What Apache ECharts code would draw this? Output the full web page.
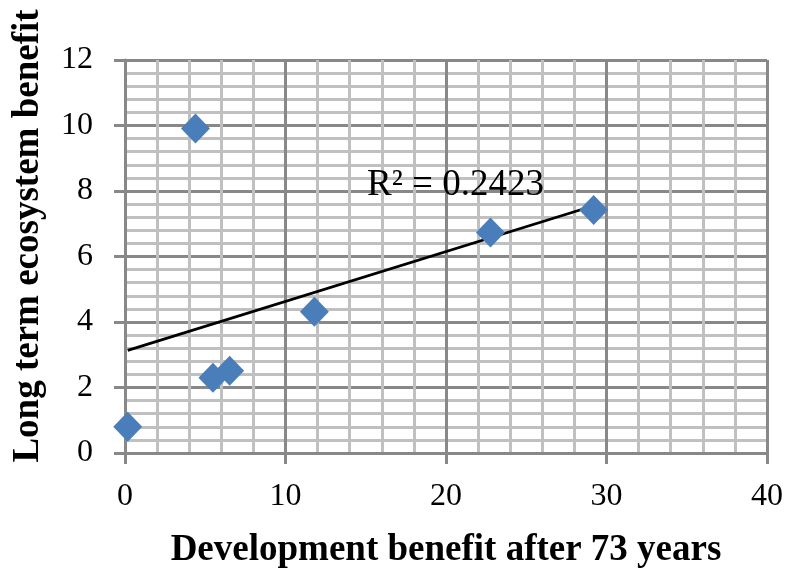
<!DOCTYPE html>
<html>
<head>
<meta charset="utf-8">
<script src="https://cdn.jsdelivr.net/npm/echarts@6/dist/echarts.min.js"></script>
<style>
  html, body { margin: 0; padding: 0; background: #ffffff; }
  #chart { width: 786px; height: 569px; }
</style>
</head>
<body>
<div id="chart"></div>
<script>
// Development benefit (x) vs long term ecosystem benefit (y)
const devBenefit = [0.17, 4.39, 5.48, 6.52, 11.8, 22.77, 29.2];
const ecoBenefit = [0.80, 9.91, 2.30, 2.51, 4.31, 6.73, 7.42];
const xTicks = [0, 10, 20, 30, 40];
const yTicks = [0, 2, 4, 6, 8, 10, 12];
const xTitle = 'Development benefit after 73 years';
const yTitle = 'Long term ecosystem benefit';
const r2Text = 'R² = 0.2423';

// Least-squares linear trend through the points
function linearFit(xs, ys) {
  const n = xs.length;
  const mx = xs.reduce((a, b) => a + b, 0) / n;
  const my = ys.reduce((a, b) => a + b, 0) / n;
  let sxy = 0, sxx = 0;
  for (let i = 0; i < n; i++) {
    sxy += (xs[i] - mx) * (ys[i] - my);
    sxx += (xs[i] - mx) * (xs[i] - mx);
  }
  const slope = sxy / sxx;
  return { slope, intercept: my - slope * mx };
}
const fit = linearFit(devBenefit, ecoBenefit);
const xMin = Math.min(...devBenefit), xMax = Math.max(...devBenefit);
const trend = [[xMin, fit.intercept + fit.slope * xMin], [xMax, fit.intercept + fit.slope * xMax]];
const points = devBenefit.map((x, i) => [x, ecoBenefit[i]]);

const serif = '"Liberation Serif", "DejaVu Serif", serif';
const majorColor = '#888888';
const minorColor = '#c0c0c0';

const chart = echarts.init(document.getElementById('chart'), null, { renderer: 'canvas' });
chart.setOption({
  animation: false,
  backgroundColor: '#ffffff',
  grid: { left: 125, right: 19, top: 60, bottom: 116, containLabel: false, outerBoundsMode: 'none' },
  xAxis: {
    type: 'value',
    min: xTicks[0], max: xTicks[xTicks.length - 1], interval: 10,
    name: xTitle,
    nameLocation: 'middle', nameGap: 79,
    nameTextStyle: { fontFamily: serif, fontSize: 37, fontWeight: 'bold', color: '#000' },
    axisLine: { show: true, lineStyle: { color: majorColor, width: 3 } },
    axisTick: { show: true, inside: false, length: 11, lineStyle: { color: majorColor, width: 3 } },
    axisLabel: { fontFamily: serif, fontSize: 32, color: '#000', margin: 28 },
    splitLine: { show: true, lineStyle: { color: majorColor, width: 3 } },
    minorTick: { show: false, splitNumber: 5 },
    minorSplitLine: { show: true, lineStyle: { color: minorColor, width: 3 } }
  },
  yAxis: {
    type: 'value',
    min: yTicks[0], max: yTicks[yTicks.length - 1], interval: 2,
    axisLine: { show: true, lineStyle: { color: majorColor, width: 3 } },
    axisTick: { show: true, inside: false, length: 11, lineStyle: { color: majorColor, width: 3 } },
    axisLabel: { fontFamily: serif, fontSize: 32, color: '#000', margin: 32 },
    splitLine: { show: true, lineStyle: { color: majorColor, width: 3 } },
    minorTick: { show: false, splitNumber: 5 },
    minorSplitLine: { show: true, lineStyle: { color: minorColor, width: 3 } }
  },
  series: [
    {
      type: 'line',
      data: trend,
      symbol: 'none',
      lineStyle: { color: '#000000', width: 2.8 },
      z: 3
    },
    {
      type: 'scatter',
      data: points,
      symbol: 'diamond',
      symbolSize: [29, 30],
      itemStyle: { color: '#4a7ebb', opacity: 1 },
      z: 4
    }
  ],
  graphic: [
    {
      type: 'text',
      x: 28, y: 236,
      rotation: Math.PI / 2,
      style: {
        text: yTitle, font: 'bold 37px ' + serif, fill: '#000',
        align: 'center', verticalAlign: 'middle'
      },
      z: 10
    },
    {
      type: 'text',
      x: 367, y: 185,
      style: { text: r2Text, font: '37px ' + serif, fill: '#000', verticalAlign: 'middle' },
      z: 10
    }
  ]
});
</script>
</body>
</html>
